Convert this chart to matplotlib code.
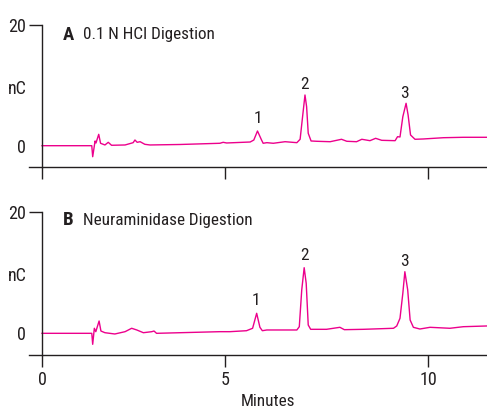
import matplotlib
matplotlib.use("Agg")
import matplotlib.pyplot as plt
import numpy as np

plt.rcParams['font.family'] = ['Roboto Condensed', 'DejaVu Sans']

# trace A: 0.1 N HCl digestion (minutes, nC)
t_a = [0.00, 1.36, 1.385, 1.45, 1.475, 1.55, 1.60, 1.72, 1.81, 1.90, 2.27, 2.49, 2.54,
       2.60, 2.68, 2.81, 2.95, 3.77, 4.86, 4.95, 5.04, 5.62, 5.71, 5.80, 5.90, 5.94,
       6.03, 6.19, 6.48, 6.77, 6.85, 6.92, 6.97, 7.01, 7.05, 7.12, 7.26, 7.59, 7.87,
       8.00, 8.24, 8.37, 8.57, 8.71, 8.86, 9.19, 9.25, 9.31, 9.38, 9.46, 9.51, 9.57,
       9.68, 9.88, 10.38, 10.87, 11.45]
v_a = [0.05, 0.05, -1.77, 0.83, 0.50, 1.93, 0.45, 0.17, 0.61, 0.12, 0.17, 0.55, 0.99,
       0.61, 0.71, 0.28, 0.17, 0.25, 0.45, 0.61, 0.50, 0.66, 0.99, 2.48, 0.99, 0.45,
       0.55, 0.45, 0.71, 0.55, 1.11, 5.40, 8.43, 6.50, 2.10, 0.83, 0.78, 0.71, 1.11,
       0.78, 0.71, 1.11, 0.88, 1.27, 0.94, 0.88, 1.54, 1.49, 4.84, 7.06, 5.12, 1.82,
       1.11, 1.16, 1.37, 1.44, 1.44]

# trace B: neuraminidase digestion
t_b = [0.00, 1.36, 1.385, 1.43, 1.47, 1.56, 1.61, 1.72, 1.99, 2.27, 2.45, 2.59, 2.77,
       3.00, 3.06, 3.13, 3.77, 4.86, 5.12, 5.53, 5.68, 5.78, 5.86, 5.92, 6.03, 6.77,
       6.83, 6.89, 6.95, 7.00, 7.05, 7.11, 7.50, 7.83, 7.94, 8.41, 9.15, 9.23, 9.31,
       9.38, 9.43, 9.50, 9.56, 9.64, 9.80, 10.05, 10.54, 10.87, 11.45]
v_b = [0.03, 0.03, -1.78, 0.86, 0.30, 2.06, 0.41, 0.13, -0.08, 0.30, 0.86, 0.58, 0.13,
       0.30, 0.41, 0.03, 0.13, 0.30, 0.30, 0.46, 0.86, 3.33, 1.02, 0.46, 0.58, 0.58,
       1.12, 7.17, 10.84, 8.27, 1.40, 0.69, 0.69, 1.02, 0.63, 0.69, 0.86, 1.24, 2.50,
       6.62, 10.18, 7.17, 2.22, 1.02, 0.74, 1.02, 0.86, 1.12, 1.24]

peak_names = ["1", "2", "3"]
peak_t_a = [5.81, 6.97, 9.43]
peak_lbl_a = [4.5, 10.2, 8.7]
peak_t_b = [5.76, 6.95, 9.43]
peak_lbl_b = [5.5, 12.8, 11.8]

panel_letters = ["A", "B"]
panel_titles = ["0.1 N HCI Digestion", "Neuraminidase Digestion"]

pink = '#EC008C'
ink = '#231F20'


# the original time axis is slightly uneven between 0-5 and 5-10 min
def fwd(t):
    t = np.asarray(t, dtype=float)
    return np.where(t < 5, 42 + 36.6 * t, 225 + 40.6 * (t - 5))


def inv(p):
    p = np.asarray(p, dtype=float)
    return np.where(p < 225, (p - 42) / 36.6, 5 + (p - 225) / 40.6)


W, H = 487, 409
fig = plt.figure(figsize=(W / 100, H / 100), dpi=100)

# axes boxes in pixels: (top, bottom, y at zero, px per nC)
boxes = [(25, 166.7, 146.0, 6.05), (212.1, 355.0, 333.5, 6.07)]
traces = [(t_a, v_a), (t_b, v_b)]
peaks = [(peak_t_a, peak_lbl_a), (peak_t_b, peak_lbl_b)]

for i, (top, bot, y0, s) in enumerate(boxes):
    ax = fig.add_axes([29 / W, 1 - bot / H, 458 / W, (bot - top) / H])
    ax.set_xscale('function', functions=(fwd, inv))
    ax.set_xlim(inv(29), inv(487))
    ax.set_ylim(-(bot - y0) / s, 20)

    t, v = traces[i]
    ax.plot(t, v, color=pink, lw=1.0)

    for name, pt, pv in zip(peak_names, *peaks[i]):
        ax.text(pt, pv, name, ha='center', va='center', fontsize=12.5, color=ink)

    for sp in ['top', 'right']:
        ax.spines[sp].set_visible(False)
    ax.spines['left'].set_position(('data', 0))
    for sp in ['left', 'bottom']:
        ax.spines[sp].set_color(ink)
        ax.spines[sp].set_linewidth(1.0)

    ax.set_xticks([0, 5, 10])
    ax.tick_params(axis='x', direction='out', length=8.6, width=1.0, color=ink,
                   labelsize=13, labelcolor=ink, pad=3)
    if i == 0:
        ax.set_xticklabels([])
    else:
        ax.set_xticklabels(["0", "5", "10"])

    ax.set_yticks([0, 20])
    ax.set_yticklabels(["0", "20"])
    ax.tick_params(axis='y', direction='out', length=9.4, width=1.0, color=ink,
                   labelsize=13, labelcolor=ink, pad=2)
    ax.yaxis.get_major_ticks()[0].tick1line.set_visible(False)

    ax.annotate("nC", xy=(0, 9.5), xytext=(-15, 0), textcoords='offset pixels',
                ha='right', va='center', fontsize=13, color=ink)

    ty = 1 - (34.5 if i == 0 else 220) / H
    fig.text(63 / W, ty, panel_letters[i], fontsize=13.5, fontweight='bold',
             ha='left', va='center', color=ink)
    fig.text(83 / W, ty, panel_titles[i], fontsize=12.3, ha='left', va='center', color=ink)

fig.text(267.5 / W, 1 - 401 / H, "Minutes", fontsize=12.3, ha='center', va='center', color=ink)

fig.savefig("out.png", dpi=100)
